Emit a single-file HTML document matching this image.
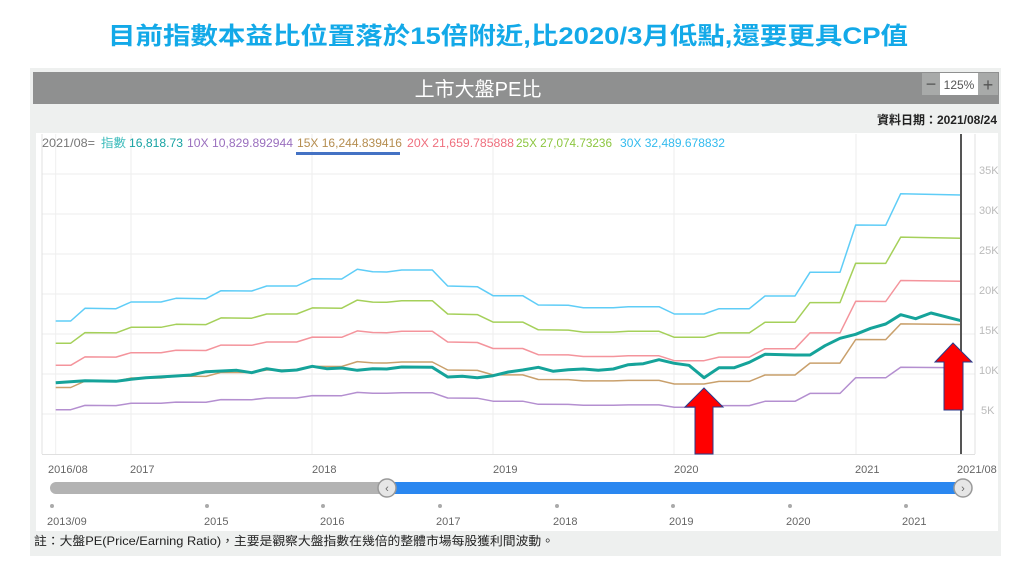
<!DOCTYPE html>
<html><head><meta charset="utf-8"><style>
html,body{margin:0;padding:0;background:#fff;}
svg{display:block;font-family:"Liberation Sans","Noto Sans CJK TC",sans-serif;}
</style></head><body>
<svg id="s" width="1023" height="572" viewBox="0 0 1023 572" xmlns="http://www.w3.org/2000/svg">
<text x="108" y="44" font-size="24" font-weight="bold" fill="#13a9e8" textLength="800" lengthAdjust="spacingAndGlyphs">目前指數本益比位置落於15倍附近,比2020/3月低點,還要更具CP值</text>
<rect x="30" y="68" width="971" height="488" fill="#eef0ef"/>
<rect x="33" y="72" width="966" height="32" fill="#8f9090"/>
<text x="478" y="96" font-size="20" fill="#fff" text-anchor="middle">上市大盤PE比</text>
<rect x="922" y="73" width="18" height="22" fill="#a8aaa9"/>
<rect x="940" y="73" width="38" height="22" fill="#fff"/>
<rect x="978" y="73" width="20" height="22" fill="#a8aaa9"/>
<text x="931" y="90" font-size="18" fill="#555" text-anchor="middle">−</text>
<text x="959" y="89" font-size="12" fill="#555" text-anchor="middle">125%</text>
<text x="988" y="91" font-size="18" fill="#555" text-anchor="middle">+</text>
<text x="997" y="124" font-size="12" font-weight="bold" fill="#222" text-anchor="end">資料日期：2021/08/24</text>
<rect x="36" y="133" width="962" height="398" fill="#fff"/>
<g id="grid" stroke="#eeeeee" stroke-width="1"></g>
<line x1="42" y1="134" x2="42" y2="454" stroke="#e0e0e0"/>
<line x1="975" y1="134" x2="975" y2="454" stroke="#e0e0e0"/>
<line x1="42" y1="454.5" x2="975" y2="454.5" stroke="#e0e0e0"/>
<g font-size="12">
<text x="42" y="147" fill="#777" textLength="53" lengthAdjust="spacingAndGlyphs">2021/08=</text>
<text x="101" y="147" fill="#3bbbbb" textLength="25" lengthAdjust="spacingAndGlyphs">指數</text>
<text x="129" y="147" fill="#17a3a3" textLength="54" lengthAdjust="spacingAndGlyphs">16,818.73</text>
<text x="187" y="147" fill="#9a6fbe" textLength="106" lengthAdjust="spacingAndGlyphs">10X 10,829.892944</text>
<text x="297" y="147" fill="#b58d4f" textLength="105" lengthAdjust="spacingAndGlyphs">15X 16,244.839416</text>
<text x="407" y="147" fill="#ef6f7e" textLength="107" lengthAdjust="spacingAndGlyphs">20X 21,659.785888</text>
<text x="516" y="147" fill="#8cc63f" textLength="96" lengthAdjust="spacingAndGlyphs">25X 27,074.73236</text>
<text x="620" y="147" fill="#33bbee" textLength="105" lengthAdjust="spacingAndGlyphs">30X 32,489.678832</text>
</g>
<rect x="296" y="152" width="104" height="3" fill="#4472c4"/>
<g id="lines" fill="none" stroke-linejoin="round"></g>
<line x1="961" y1="134" x2="961" y2="454" stroke="#555" stroke-width="2"/>
<g fill="#ff0000" stroke="#2a3a8a" stroke-width="1">
<polygon points="704,388 723,407 713,407 713,454 695,454 695,407 685,407"/>
<polygon points="953,343 972,362 963,362 963,410 944,410 944,362 935,362"/>
</g>
<g font-size="11" fill="#bbb">
<text x="979" y="174">35K</text><text x="979" y="214">30K</text><text x="979" y="254">25K</text><text x="979" y="294">20K</text><text x="979" y="334">15K</text><text x="979" y="374">10K</text><text x="981" y="414">5K</text>
</g>
<g font-size="11" fill="#666">
<text x="48" y="473">2016/08</text><text x="130" y="473">2017</text><text x="312" y="473">2018</text><text x="493" y="473">2019</text><text x="674" y="473">2020</text><text x="855" y="473">2021</text><text x="957" y="473">2021/08</text>
</g>
<line x1="56" y1="488" x2="387" y2="488" stroke="#b3b3b3" stroke-width="12" stroke-linecap="round"/>
<line x1="387" y1="488" x2="962" y2="488" stroke="#2a87f0" stroke-width="12"/>
<circle cx="387" cy="488" r="9" fill="#e6e6e6" stroke="#999" stroke-width="1.5"/>
<circle cx="963" cy="488" r="9" fill="#e6e6e6" stroke="#999" stroke-width="1.5"/>
<text x="387" y="492" font-size="11" fill="#666" text-anchor="middle">‹</text>
<text x="963" y="492" font-size="11" fill="#666" text-anchor="middle">›</text>
<g fill="#aaa">
<circle cx="52" cy="506" r="2"/><circle cx="207" cy="506" r="2"/><circle cx="323" cy="506" r="2"/><circle cx="440" cy="506" r="2"/><circle cx="557" cy="506" r="2"/><circle cx="673" cy="506" r="2"/><circle cx="790" cy="506" r="2"/><circle cx="906" cy="506" r="2"/>
</g>
<g font-size="11" fill="#666">
<text x="47" y="525">2013/09</text><text x="204" y="525">2015</text><text x="320" y="525">2016</text><text x="436" y="525">2017</text><text x="553" y="525">2018</text><text x="669" y="525">2019</text><text x="786" y="525">2020</text><text x="902" y="525">2021</text>
</g>
<text x="34" y="545" font-size="12" fill="#222" textLength="520" lengthAdjust="spacingAndGlyphs">註：大盤PE(Price/Earning Ratio)，主要是觀察大盤指數在幾倍的整體市場每股獲利間波動。</text>
</svg>
<script>
var NS="http://www.w3.org/2000/svg";
var g=document.getElementById("grid");
[174,214,254,294,334,374,414].forEach(function(y){var l=document.createElementNS(NS,"line");l.setAttribute("x1",42);l.setAttribute("x2",975);l.setAttribute("y1",y);l.setAttribute("y2",y);g.appendChild(l);});
[55.7,131,312,493,674,856].forEach(function(x){var l=document.createElementNS(NS,"line");l.setAttribute("x1",x);l.setAttribute("x2",x);l.setAttribute("y1",134);l.setAttribute("y2",454);g.appendChild(l);});
var p30=[[55.7,321],[70.7,321],[85,308.3],[116,308.7],[131,302],[161,302],[176,298.3],[206,298.7],[221,290.7],[251.7,291],[266.7,286],[296.7,286],[312.3,278.7],[341.7,279],[357.3,269.3],[372.7,271.7],[386.7,272],[401.7,270],[432.3,270],[447.7,286],[477.3,286.7],[493,295.7],[522.7,295.7],[538.3,305],[568.3,305.3],[583.3,307.7],[613.3,307.7],[628.3,306.7],[659,306.7],[674.3,314],[704,314],[719,308.7],[749.3,308.7],[765,296],[795,296],[810,272.3],[840,272.3],[855.7,225],[885.7,225.3],[900.7,193.7],[961,195]];
var idx=[[55.7,382.7],[85,380.7],[116,381.3],[131,379.3],[146,377.7],[176,376],[191,375],[206,371.7],[236.7,370.3],[251.7,372.7],[266.7,368.7],[281.7,371],[296.7,370],[312.3,366.3],[326.7,368.7],[341.7,368],[357.3,370.3],[372.7,368.7],[386.7,369],[401.7,367],[432.3,367.3],[447.7,377],[462.3,376.3],[477.3,377.7],[493,375.7],[508.3,372],[522.7,370],[538.3,367.3],[553.3,371.3],[568.3,369.7],[583.3,369],[598.3,370.3],[613.3,369],[628.3,364.7],[643.3,363.7],[659,359.7],[674.3,363.3],[689,365.3],[704,377.7],[719,367.7],[734.3,367.7],[749.3,362.3],[765,354.3],[795,355],[810,355],[825,345.7],[840,338.3],[855.7,334.3],[870.7,328.3],[885.7,324],[900.7,314.7],[915.7,318.7],[931,313],[961,320.7]];
var L=document.getElementById("lines");
function add(pts,col,w){var p=document.createElementNS(NS,"polyline");p.setAttribute("points",pts.map(function(a){return a[0]+","+a[1].toFixed(1)}).join(" "));p.setAttribute("stroke",col);p.setAttribute("stroke-width",w);L.appendChild(p);}
[[10,"#b48fd0"],[15,"#c9a06c"],[20,"#f4949c"],[25,"#a5d05a"],[30,"#5fcdf7"]].forEach(function(c){add(p30.map(function(a){return [a[0],454-(454-a[1])*c[0]/30]}),c[1],1.5);});
add(idx,"#15a39a",3);
</script>
</body></html>
